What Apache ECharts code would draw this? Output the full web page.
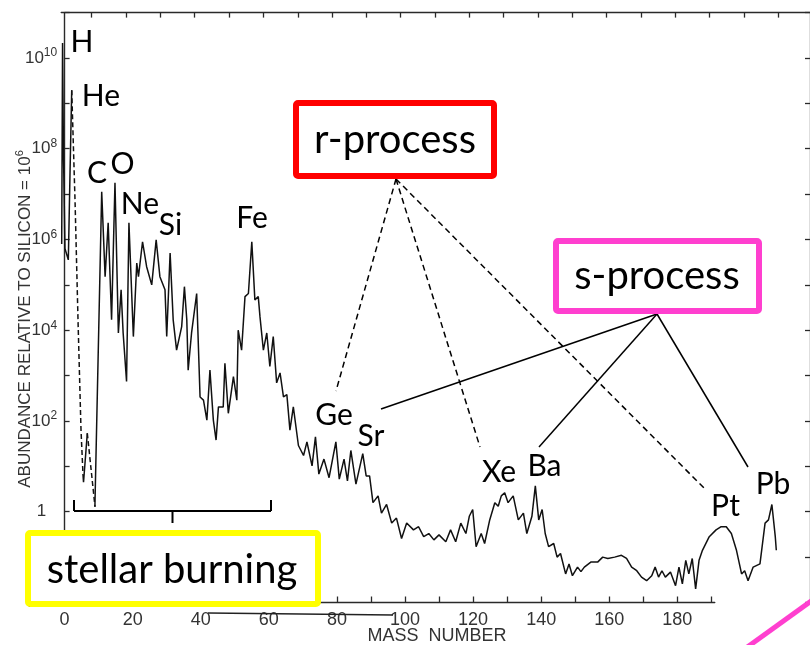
<!DOCTYPE html>
<html>
<head>
<meta charset="utf-8">
<title>Abundances of the elements</title>
<script src="https://cdn.jsdelivr.net/npm/echarts@6/dist/echarts.min.js"></script>
<style>
  html, body { margin: 0; padding: 0; background: #fff; }
  #chart { width: 810px; height: 645px; }
</style>
</head>
<body>
<div id="chart"></div>
<script>
// Abundance curve, [mass number, log10(abundance relative to Si = 10^6)]
// H and He peaks
const hHeCurve = [[-0.85, 5.9], [-0.6, 10.33], [-0.35, 8.0], [0.1, 5.8], [1.09, 5.55], [1.6, 7.5], [2.09, 9.29]];
// He down to Li (uncertain, dashed)
const heLiDashed = [[2.09, 9.29], [3.06, 6.87], [3.94, 4.22], [4.82, 1.80], [5.41, 0.81]];
// Li
const liCurve = [[5.41, 0.81], [5.56, 0.65], [6.67, 1.73]];
// Li down to Be/B (uncertain, dashed)
const liBeDashed = [[6.67, 1.73], [8.93, 0.11]];
// C onwards
const heavyCurve = [
  [8.9, 0.11], [10.9, 7.05], [11.9, 5.18], [12.8, 6.37], [13.8, 4.23], [14.8, 7.25], [15.8, 3.94],
  [16.6, 4.89], [17.2, 3.94], [18.2, 2.87], [18.9, 6.37], [20.2, 3.86], [21.2, 5.48], [21.7, 5.18],
  [22.9, 5.95], [24.1, 5.40], [25.6, 5.00], [26.9, 5.99], [28.0, 5.18], [29.5, 4.89], [30.0, 3.86],
  [31.0, 5.70], [31.9, 4.23], [32.9, 3.56], [34.4, 4.08], [35.2, 4.96], [35.9, 4.23], [36.3, 3.12],
  [37.3, 3.94], [38.8, 4.81], [39.8, 2.53], [40.8, 2.46], [41.8, 2.02], [42.7, 3.12], [43.7, 2.02],
  [44.5, 1.58], [45.2, 2.31], [46.6, 2.31], [47.1, 3.27], [48.1, 2.17], [49.6, 2.98], [50.6, 2.46],
  [51.0, 4.00], [52.0, 3.56], [53.0, 4.74], [54.0, 4.81], [55.0, 5.95], [55.9, 4.67], [56.9, 4.74],
  [57.4, 4.30], [58.4, 3.56], [59.4, 3.94], [60.3, 3.20], [61.3, 3.86], [62.3, 2.84], [63.3, 3.06],
  [64.3, 2.53], [65.3, 2.58], [66.2, 1.80], [67.2, 2.31], [68.7, 1.46], [70.2, 1.24], [71.2, 1.54],
  [72.7, 1.01], [73.7, 1.65], [74.7, 0.83], [76.2, 1.16], [77.7, 0.75], [79.7, 1.54], [80.7, 0.72],
  [82.1, 1.16], [83.1, 0.68], [84.1, 1.35], [85.6, 0.61], [87.6, 1.28], [88.6, 0.79], [89.6, 0.79],
  [90.6, 0.20], [92.1, 0.35], [93.1, -0.03], [94.6, 0.16], [96.1, -0.25], [97.5, -0.14], [99.0, -0.59],
  [100.5, -0.25], [102.5, -0.40], [104.0, -0.33], [105.5, -0.55], [107.0, -0.48], [108.5, -0.62],
  [110.0, -0.51], [112.0, -0.66], [113.4, -0.40], [114.9, -0.66], [116.4, -0.25], [117.9, -0.48],
  [118.9, -0.10], [119.9, 0.05], [120.9, -0.77], [122.4, -0.48], [123.4, -0.70], [124.9, -0.18],
  [126.4, 0.20], [127.4, 0.12], [128.3, 0.35], [129.3, 0.42], [130.3, 0.20], [131.8, 0.35],
  [133.3, -0.18], [134.8, -0.03], [135.8, -0.48], [137.3, -0.10], [138.3, 0.57], [139.3, -0.18],
  [140.3, 0.05], [141.2, -0.48], [142.2, -0.77], [143.7, -0.70], [144.7, -1.00], [145.7, -0.92],
  [147.2, -1.37], [148.2, -1.15], [149.2, -1.41], [150.7, -1.22], [151.7, -1.32], [152.7, -1.22],
  [154.6, -1.11], [156.6, -1.11], [158.1, -1.00], [159.6, -1.03], [161.6, -1.00], [163.6, -0.96],
  [165.1, -1.03], [166.6, -1.22], [168.1, -1.30], [169.5, -1.44], [171.0, -1.52], [172.5, -1.41],
  [173.5, -1.22], [174.5, -1.44], [175.5, -1.30], [176.5, -1.44], [178.0, -1.33], [179.5, -1.63],
  [180.5, -1.22], [181.5, -1.59], [182.5, -1.07], [183.4, -1.37], [184.4, -1.03], [185.4, -1.70],
  [186.4, -1.07], [187.4, -0.85], [189.4, -0.55], [191.4, -0.40], [192.9, -0.33], [194.4, -0.33],
  [195.9, -0.48], [197.4, -0.85], [198.9, -1.37], [199.8, -1.30], [200.8, -1.52], [202.3, -1.22],
  [204.3, -1.15], [205.8, -0.25], [206.8, -0.18], [207.8, 0.16], [208.8, -0.55], [209.1, -0.85]
];

// Axis ticks and labels
const massTicks = [0, 10, 20, 30, 40, 50, 60, 70, 80, 90, 100, 110, 120, 130, 140, 150, 160, 170, 180, 190];
const massLabels = [0, 20, 40, 60, 80, 100, 120, 140, 160, 180];
const frameTopTicks = [7.96, 18.05, 28.13, 38.2, 48.3, 58.4, 68.5, 78.6, 88.6, 98.7, 108.8,
  118.9, 129.0, 139.1, 149.2, 159.2, 169.3, 179.4, 189.5, 199.6, 209.7];
const decadeTicks = [1e-2, 1e-1, 1, 1e1, 1e2, 1e3, 1e4, 1e5, 1e6, 1e7, 1e8, 1e9, 1e10, 1e11];
const decadeLabels = [1e-2, 1, 1e2, 1e4, 1e6, 1e8, 1e10];

// Element labels on the peaks
const elementNames = ['H', 'He', 'C', 'O', 'Ne', 'Si', 'Fe', 'Ge', 'Sr', 'Xe', 'Ba', 'Pt', 'Pb'];

const toPoints = arr => arr.map(p => [p[0], Math.pow(10, p[1])]);

const AXIS_COLOR = '#2a2a2a';
const CURVE_COLOR = '#111';
const PLOT_FONT = 'Liberation Sans';
const NOTE_FONT = 'Lato';

const chart = echarts.init(document.getElementById('chart'), null, { renderer: 'canvas' });

function curveSeries(data, dashed) {
  return {
    type: 'line',
    xAxisIndex: 0,
    yAxisIndex: 0,
    data: toPoints(data),
    symbol: 'none',
    silent: true,
    animation: false,
    lineStyle: { color: CURVE_COLOR, width: 1.5, type: dashed ? [5, 3] : 'solid' },
    z: 3
  };
}

const elementPos = {
  H: [82, 42], He: [101, 96], C: [97, 173], O: [122.5, 164], Ne: [140, 204], Si: [170.5, 225],
  Fe: [252, 218.5], Ge: [334, 415], Sr: [371, 436], Xe: [499, 472], Ba: [544.5, 466], Pt: [725.5, 506], Pb: [773, 484]
};

function noteText(text, x, y, size) {
  return {
    type: 'text', x: x, y: y, z: 101,
    style: {
      text: text, fill: '#000', fontFamily: NOTE_FONT, fontSize: size,
      align: 'center', verticalAlign: 'middle', textAlign: 'center', textVerticalAlign: 'middle'
    }
  };
}
function seg(x1, y1, x2, y2, w, color, dash) {
  return {
    type: 'line', z: 99, silent: true,
    shape: { x1: x1, y1: y1, x2: x2, y2: y2 },
    style: { stroke: color, lineWidth: w, lineDash: dash || null }
  };
}
function box(x, y, w, h, color) {
  return {
    type: 'rect', z: 100, silent: true,
    shape: { x: x, y: y, width: w, height: h, r: 2 },
    style: { fill: '#fff', stroke: color, lineWidth: 6 }
  };
}

const graphics = [];
elementNames.forEach(n => graphics.push(noteText(n, elementPos[n][0], elementPos[n][1], 30)));

// r-process connectors (dashed) and s-process connectors (solid)
graphics.push(seg(396, 179, 336, 391, 1.5, '#000', [6, 4]));
graphics.push(seg(396, 179, 480, 447, 1.5, '#000', [6, 4]));
graphics.push(seg(396, 179, 704, 488, 1.5, '#000', [6, 4]));
graphics.push(seg(657, 314, 381, 409, 1.5, '#000'));
graphics.push(seg(657, 314, 539, 447, 1.5, '#000'));
graphics.push(seg(657, 314, 748, 467, 1.5, '#000'));

// stellar-burning bracket
graphics.push(seg(74, 511, 271, 511, 2, '#000'));
graphics.push(seg(74, 500, 74, 511, 2, '#000'));
graphics.push(seg(271, 500, 271, 511, 2, '#000'));
graphics.push(seg(172.5, 511, 172.5, 523, 2, '#000'));

// stray rule through the lower labels and the pink stroke in the corner
graphics.push(seg(208, 613, 393, 615, 1.5, '#222'));
graphics.push(seg(746, 648, 814, 599, 5, '#ff3fcf'));

// boxes with captions
graphics.push(box(296, 103, 198, 73, '#ff0000'));
graphics.push(noteText('r-process', 395, 140, 40));
graphics.push(box(556, 241, 203, 70, '#ff3fcf'));
graphics.push(noteText('s-process', 657, 276, 40));
graphics.push(box(28, 533, 290, 71, '#ffff00'));
graphics.push(noteText('stellar burning', 172, 570, 40));

// axis titles
graphics.push({
  type: 'text', x: 25, y: 319, rotation: Math.PI / 2, z: 50,
  style: {
    text: '{t|ABUNDANCE RELATIVE TO SILICON = 10}{s|6}',
    align: 'center', verticalAlign: 'middle', textAlign: 'center', textVerticalAlign: 'middle',
    rich: {
      t: { fontFamily: PLOT_FONT, fontSize: 17, fill: '#333', color: '#333' },
      s: { fontFamily: PLOT_FONT, fontSize: 11, fill: '#333', color: '#333', padding: [0, 0, 10, 0] }
    }
  }
});
graphics.push({
  type: 'text', x: 437, y: 636, z: 50,
  style: {
    text: 'MASS  NUMBER', fill: '#333', fontFamily: PLOT_FONT, fontSize: 18,
    align: 'center', verticalAlign: 'middle', textAlign: 'center', textVerticalAlign: 'middle'
  }
});

const yLabelFormatter = v => {
  const k = Math.round(Math.log10(v));
  return k === 0 ? '{one|1}' : '{b|10}{s|' + k + '}';
};

const option = {
  animation: false,
  backgroundColor: '#fff',
  grid: [
    { left: 61.2, right: 0, top: 12.6, bottom: 42.5 },
    { left: 61.2, right: 95.2, top: 12.6, bottom: 42.5 }
  ],
  xAxis: [
    {
      gridIndex: 0, type: 'value', position: 'top', min: -1, max: 219,
      axisLine: { show: true, lineStyle: { color: AXIS_COLOR, width: 1.3 } },
      axisTick: { show: true, inside: true, length: 5, customValues: frameTopTicks, lineStyle: { color: AXIS_COLOR, width: 1.3 } },
      axisLabel: { show: false },
      splitLine: { show: false }
    },
    {
      gridIndex: 1, type: 'value', position: 'bottom', min: -1, max: 191,
      axisLine: { show: true, onZero: false, lineStyle: { color: AXIS_COLOR, width: 1.3 } },
      axisTick: { show: true, inside: true, length: 6, customValues: massTicks, lineStyle: { color: AXIS_COLOR, width: 1.3 } },
      axisLabel: { customValues: massLabels, margin: 9, fontFamily: PLOT_FONT, fontSize: 18, color: '#333' },
      splitLine: { show: false }
    }
  ],
  yAxis: [
    {
      gridIndex: 0, type: 'log', logBase: 10, min: 1e-2, max: 1e11, position: 'left',
      axisLine: { show: true, lineStyle: { color: AXIS_COLOR, width: 1.4 } },
      axisTick: { show: true, inside: true, length: 5, customValues: decadeTicks, lineStyle: { color: AXIS_COLOR, width: 1.3 } },
      axisLabel: {
        customValues: decadeLabels, margin: 4, formatter: yLabelFormatter,
        rich: {
          b: { fontFamily: PLOT_FONT, fontSize: 17, color: '#333' },
          s: { fontFamily: PLOT_FONT, fontSize: 12, color: '#333', padding: [0, 0, 10, 0] },
          one: { fontFamily: PLOT_FONT, fontSize: 17, color: '#333', padding: [0, 11, 0, 0] }
        }
      },
      splitLine: { show: false }
    },
    {
      gridIndex: 0, type: 'log', logBase: 10, min: 1e-2, max: 1e11, position: 'right',
      axisLine: { show: true, lineStyle: { color: AXIS_COLOR, width: 1.3 } },
      axisTick: { show: true, inside: true, length: 5, customValues: decadeTicks, lineStyle: { color: AXIS_COLOR, width: 1.3 } },
      axisLabel: { show: false },
      splitLine: { show: false }
    },
    {
      gridIndex: 1, type: 'log', logBase: 10, min: 1e-2, max: 1e11, show: false
    }
  ],
  series: [
    curveSeries(hHeCurve, false),
    curveSeries(heLiDashed, true),
    curveSeries(liCurve, false),
    curveSeries(liBeDashed, true),
    curveSeries(heavyCurve, false)
  ],
  graphic: graphics
};

chart.setOption(option);
</script>
</body>
</html>
